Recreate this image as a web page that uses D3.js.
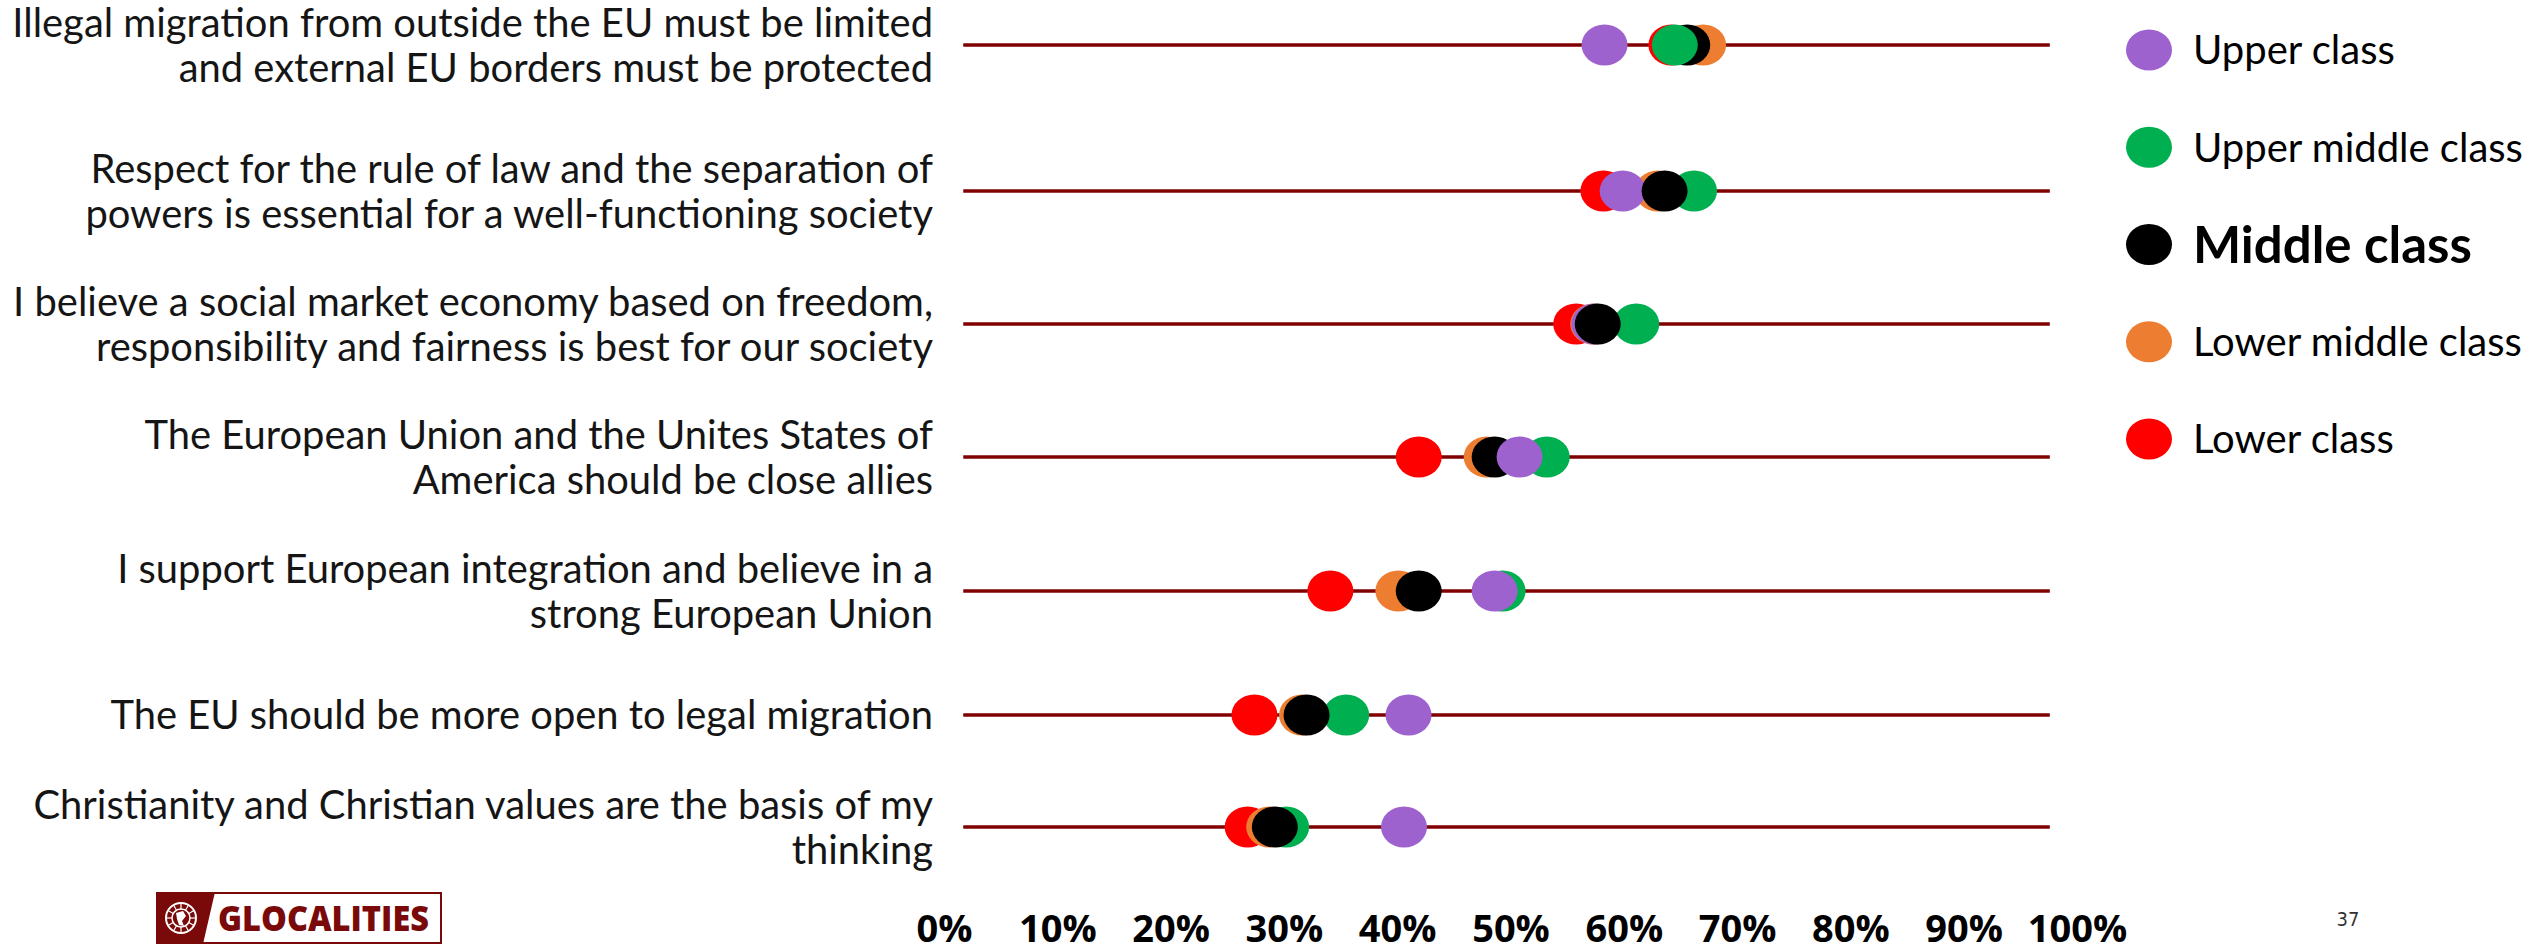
<!DOCTYPE html>
<html>
<head>
<meta charset="utf-8">
<script src="https://cdn.jsdelivr.net/npm/d3@7"></script>
<style>
  html, body { margin: 0; padding: 0; background: #fff; }
  svg { display: block; }
</style>
</head>
<body>
<svg id="chart" width="2534" height="946"></svg>
<script>
// ---------------- DATA ----------------
const statements = [
  ["Illegal migration from outside the EU must be limited", "and external EU borders must be protected"],
  ["Respect for the rule of law and the separation of", "powers is essential for a well-functioning society"],
  ["I believe a social market economy based on freedom,", "responsibility and fairness is best for our society"],
  ["The European Union and the Unites States of", "America should be close allies"],
  ["I support European integration and believe in a", "strong European Union"],
  ["The EU should be more open to legal migration"],
  ["Christianity and Christian values are the basis of my", "thinking"]
];
const classes = ["Upper class", "Upper middle class", "Middle class", "Lower middle class", "Lower class"];
const upperClass       = [0.583, 0.599, 0.574, 0.508, 0.486, 0.410, 0.406];
const upperMiddleClass = [0.645, 0.662, 0.611, 0.532, 0.493, 0.355, 0.302];
const middleClass      = [0.656, 0.636, 0.577, 0.486, 0.419, 0.320, 0.292];
const lowerMiddleClass = [0.670, 0.630, 0.573, 0.479, 0.401, 0.316, 0.287];
const lowerClass       = [0.642, 0.582, 0.558, 0.419, 0.341, 0.274, 0.268];
const tickValues = [0, 0.1, 0.2, 0.3, 0.4, 0.5, 0.6, 0.7, 0.8, 0.9, 1.0];
const lineExtent = [0.017, 0.976];
const pageNumber = "37";

// ---------------- STYLE / LAYOUT ----------------
const colors = {
  "Upper class": "#9E62CF",
  "Upper middle class": "#00B050",
  "Middle class": "#000000",
  "Lower middle class": "#ED7D31",
  "Lower class": "#FF0000"
};
const seriesValues = {
  "Upper class": upperClass,
  "Upper middle class": upperMiddleClass,
  "Middle class": middleClass,
  "Lower middle class": lowerMiddleClass,
  "Lower class": lowerClass
};
// stacking order of the markers (bottom -> top), with the per-row exceptions seen in the slide
const drawOrder = ["Lower class", "Lower middle class", "Upper middle class", "Upper class", "Middle class"];
const rowFront = ["Upper middle class", null, null, "Upper class", null, null, null];
const rowY = [45, 191, 324, 457, 591, 715, 827];
const font = "Lato, 'Noto Sans', sans-serif";

const svg = d3.select("#chart");
const x = d3.scaleLinear().domain([0, 1]).range([944, 2077]);
const y = d3.scaleOrdinal().domain(d3.range(statements.length)).range(rowY);

// horizontal guide lines
svg.append("g").selectAll("line").data(statements).join("line")
  .attr("x1", x(lineExtent[0])).attr("x2", x(lineExtent[1]))
  .attr("y1", (d, i) => y(i)).attr("y2", (d, i) => y(i))
  .attr("stroke", "#800000").attr("stroke-width", 3.5);

// row labels
const labelG = svg.append("g").attr("font-family", font).attr("font-size", 35).attr("fill", "#151515");
const lineGap = 45;
statements.forEach((lines, i) => {
  const n = lines.length;
  lines.forEach((t, j) => {
    labelG.append("text")
      .attr("x", 933)
      .attr("y", y(i) + (j - (n - 1) / 2) * lineGap)
      .attr("dy", "0.36em")
      .attr("text-anchor", "end")
      .text(t);
  });
});
(function () {
  let maxW = 0;
  labelG.selectAll("text").each(function () { maxW = Math.max(maxW, this.getComputedTextLength()); });
  const target = 921;
  labelG.attr("font-size", 35 * target / maxW);
})();

// dots: build point list, ordered for stacking
const points = [];
statements.forEach((s, i) => {
  const order = drawOrder.filter(c => c !== rowFront[i]);
  if (rowFront[i]) order.push(rowFront[i]);
  order.forEach(cls => points.push({ cls, row: i, value: seriesValues[cls][i] }));
});
svg.append("g").selectAll("ellipse").data(points).join("ellipse")
  .attr("cx", d => x(d.value))
  .attr("cy", d => y(d.row))
  .attr("rx", 23).attr("ry", 20.5)
  .attr("fill", d => colors[d.cls]);

// x axis
const axis = d3.axisBottom(x).tickValues(tickValues).tickFormat(d3.format(".0%")).tickSize(0).tickPadding(0);
const axG = svg.append("g").attr("transform", "translate(0,942)").call(axis);
axG.select(".domain").remove();
axG.selectAll("text")
  .attr("y", 0).attr("dy", 0)
  .attr("font-family", "'Open Sans', 'Noto Sans', sans-serif")
  .attr("font-weight", 700)
  .attr("font-size", 38)
  .attr("fill", "#000");

// legend
const ly = d3.scalePoint().domain(classes).range([50, 439]);
const legG = svg.append("g").attr("font-family", font);
classes.forEach(cls => {
  legG.append("ellipse").attr("cx", 2149).attr("cy", ly(cls)).attr("rx", 23).attr("ry", 20.5).attr("fill", colors[cls]);
  const bold = cls === "Middle class";
  legG.append("text")
    .attr("x", 2193).attr("y", ly(cls)).attr("dy", "0.36em")
    .attr("font-size", bold ? 51 : 40)
    .attr("font-weight", bold ? 700 : 400)
    .attr("fill", "#000")
    .text(cls);
});

// page number
svg.append("text").attr("x", 2348).attr("y", 926).attr("text-anchor", "middle")
  .attr("font-family", "'Liberation Sans Narrow', 'DejaVu Sans Condensed', sans-serif")
  .attr("font-size", 20).attr("fill", "#333").text(pageNumber);

// logo
const logo = svg.append("g");
const dark = "#7A0A0A";
logo.append("rect").attr("x", 157).attr("y", 893).attr("width", 284).attr("height", 50)
  .attr("fill", "#fff").attr("stroke", dark).attr("stroke-width", 2);
logo.append("path").attr("d", "M156,892 L215,892 L203,944 L156,944 Z").attr("fill", dark);
logo.append("circle").attr("cx", 181).attr("cy", 918).attr("r", 15).attr("fill", "none").attr("stroke", "#fff").attr("stroke-width", 2);
logo.append("circle").attr("cx", 181).attr("cy", 918).attr("r", 9).attr("fill", "none").attr("stroke", "#fff").attr("stroke-width", 1.5);
d3.range(12).forEach(k => {
  const a = k * Math.PI / 6;
  logo.append("line")
    .attr("x1", 181 + 9 * Math.cos(a)).attr("y1", 918 + 9 * Math.sin(a))
    .attr("x2", 181 + 15 * Math.cos(a)).attr("y2", 918 + 15 * Math.sin(a))
    .attr("stroke", "#fff").attr("stroke-width", 1.2);
});
logo.append("path").attr("d", "M176,913 L183,911 L186,916 L182,921 L184,926 L179,925 L177,919 Z").attr("fill", "#fff");
logo.append("text").attr("x", 218).attr("y", 931)
  .attr("font-family", "'Open Sans', 'Noto Sans', sans-serif").attr("font-weight", 800)
  .attr("font-size", 35).attr("fill", dark).attr("textLength", 211).attr("lengthAdjust", "spacingAndGlyphs")
  .text("GLOCALITIES");
</script>
</body>
</html>
